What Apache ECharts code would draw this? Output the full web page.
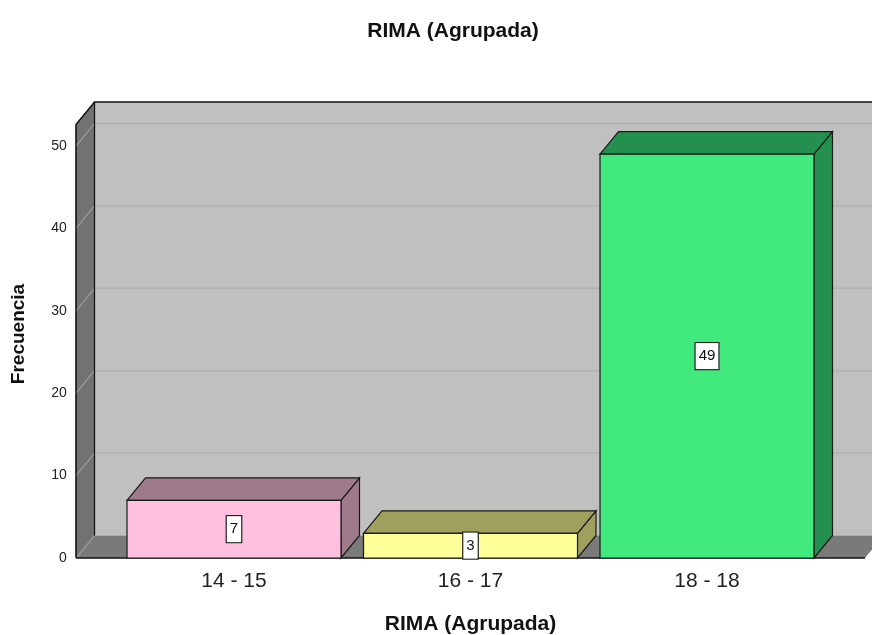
<!DOCTYPE html>
<html>
<head>
<meta charset="utf-8">
<script src="https://cdn.jsdelivr.net/npm/echarts@6/dist/echarts.min.js"></script>
<style>
html,body{margin:0;padding:0;background:#fff;}
#chart{width:872px;height:635px;}
</style>
</head>
<body>
<div id="chart"></div>
<script>
const categories = ['14 - 15', '16 - 17', '18 - 18'];
const frequencies = [7, 3, 49];
const yTickValues = [0, 10, 20, 30, 40, 50];
const yMax = 52.6;

const frontColors = ['#FFBFDF', '#FFFF9A', '#42E97D'];
const darkColors = ['#9E7A8B', '#A0A05E', '#24904F'];
const FONT = 'Liberation Sans, Arial, sans-serif';
const DX = 18.5, DY = -22.5;

const chart = echarts.init(document.getElementById('chart'), null, {renderer: 'canvas'});

function renderWalls(params, api) {
  const cs = params.coordSys;
  const band = api.size([1, 0])[0];
  const pad = band * 0.168;
  const xl = cs.x - pad;
  const xr = cs.x + cs.width + pad;
  const y0 = api.coord([0, 0])[1];
  const yt = api.coord([0, yMax])[1];
  const children = [];
  children.push({type: 'polygon', shape: {points: [[xl + DX, yt + DY], [xr + DX + 50, yt + DY], [xr + DX + 50, y0 + DY], [xl + DX, y0 + DY]]},
    style: {fill: '#C0C0C0', stroke: null}});
  yTickValues.forEach(v => {
    const y = api.coord([0, v])[1];
    if (v > 0) children.push({type: 'line', shape: {x1: xl + DX, y1: y + DY, x2: xr + DX + 50, y2: y + DY}, style: {stroke: '#B2B2B2', lineWidth: 1.5}});
  });
  children.push({type: 'polygon', shape: {points: [[xl, y0], [xl, yt], [xl + DX, yt + DY], [xl + DX, y0 + DY]]},
    style: {fill: '#727272', stroke: '#111', lineWidth: 1}});
  children.push({type: 'polygon', shape: {points: [[xl, y0], [xr, y0], [xr + DX, y0 + DY], [xl + DX, y0 + DY]]},
    style: {fill: '#7A7A7A', stroke: null}});
  yTickValues.forEach(v => {
    const y = api.coord([0, v])[1];
    children.push({type: 'line', shape: {x1: xl, y1: y, x2: xl + DX, y2: y + DY}, style: {stroke: '#9C9C9C', lineWidth: 1.2}});
  });
  children.push({type: 'polyline', shape: {points: [[xl, yt], [xl + DX, yt + DY], [xr + DX + 50, yt + DY]]}, style: {stroke: '#111', lineWidth: 1.3, fill: null}});
  children.push({type: 'line', shape: {x1: xl + DX, y1: yt + DY, x2: xl + DX, y2: y0 + DY}, style: {stroke: '#111', lineWidth: 1.2}});
  children.push({type: 'line', shape: {x1: xl, y1: y0, x2: xr, y2: y0}, style: {stroke: '#111', lineWidth: 1.3}});
  children.push({type: 'line', shape: {x1: xl, y1: yt, x2: xl, y2: y0}, style: {stroke: '#111', lineWidth: 1.2}});
  return {type: 'group', children: children};
}

function renderBar(params, api) {
  const i = api.value(0), v = api.value(1);
  const base = api.coord([i, 0]);
  const top = api.coord([i, v]);
  const band = api.size([1, 0])[0];
  const hw = band * 0.4524;
  const x0 = base[0] - hw, x1 = base[0] + hw, yb = base[1], yt = top[1];
  const stroke = '#1a1a1a';
  return {type: 'group', children: [
    {type: 'polygon', shape: {points: [[x1, yt], [x1 + DX, yt + DY], [x1 + DX, yb + DY], [x1, yb]]},
      style: {fill: darkColors[i], stroke: stroke, lineWidth: 1.2}},
    {type: 'polygon', shape: {points: [[x0, yt], [x1, yt], [x1 + DX, yt + DY], [x0 + DX, yt + DY]]},
      style: {fill: darkColors[i], stroke: stroke, lineWidth: 1.2}},
    {type: 'rect', shape: {x: x0, y: yt, width: x1 - x0, height: yb - yt},
      style: {fill: frontColors[i], stroke: stroke, lineWidth: 1.2}},
    {type: 'text', x: base[0], y: (yt + yb) / 2,
      style: {text: String(v), align: 'center', verticalAlign: 'middle', font: '15px ' + FONT, fill: '#111',
        backgroundColor: '#fff', borderColor: '#222', borderWidth: 1.2, padding: [5, 3, 5, 3], lineHeight: 16}}
  ]};
}

const option = {
  backgroundColor: '#fff',
  animation: false,
  title: {text: 'RIMA (Agrupada)', left: 448, top: 16, textAlign: 'center',
    textStyle: {fontFamily: FONT, fontSize: 21, fontWeight: 'bold', color: '#111'}},
  grid: {left: 115.75, right: 46.75, top: 124.5, bottom: 77, containLabel: false, outerBoundsMode: 'none'},
  xAxis: {type: 'category', data: categories,
    axisLine: {show: false}, axisTick: {show: false}, splitLine: {show: false},
    axisLabel: {margin: 13, fontFamily: FONT, fontSize: 21, color: '#222'},
    name: 'RIMA (Agrupada)', nameLocation: 'middle', nameGap: 56,
    nameTextStyle: {fontFamily: FONT, fontSize: 21, fontWeight: 'bold', color: '#111'}},
  yAxis: {type: 'value', min: 0, max: yMax, interval: 10,
    axisLine: {show: false}, axisTick: {show: false}, splitLine: {show: false},
    axisLabel: {margin: 49, fontFamily: FONT, fontSize: 14, color: '#222',
      formatter: v => (yTickValues.indexOf(v) >= 0 ? String(v) : '')}},
  graphic: [{type: 'text', x: 19, y: 334, rotation: Math.PI / 2,
    style: {text: 'Frecuencia', align: 'center', verticalAlign: 'middle', font: 'bold 19px ' + FONT, fill: '#111'}}],
  series: [
    {type: 'custom', renderItem: renderWalls, data: [[0, 0]], clip: false, z: 1, silent: true},
    {type: 'custom', renderItem: renderBar, data: categories.map((c, i) => [i, frequencies[i]]),
      encode: {x: 0, y: 1}, clip: false, z: 2}
  ]
};
chart.setOption(option);
</script>
</body>
</html>
